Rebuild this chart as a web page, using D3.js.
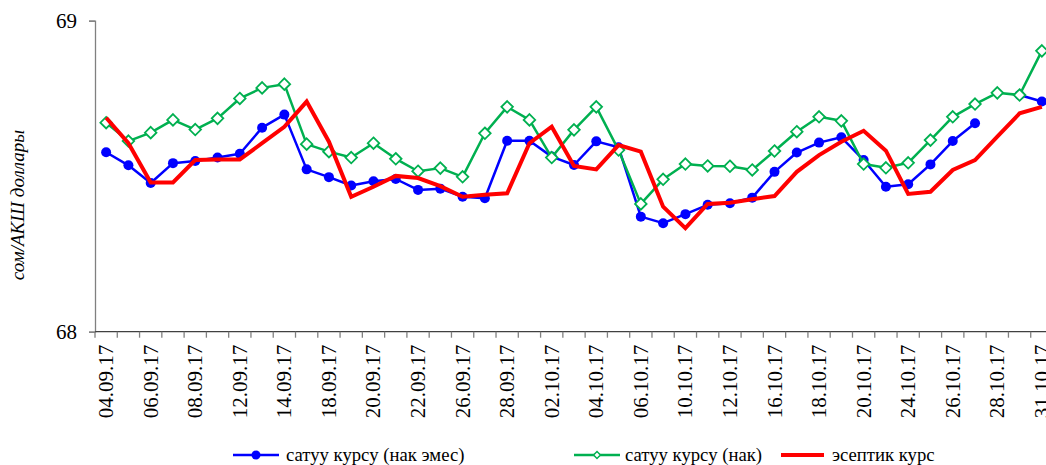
<!DOCTYPE html>
<html>
<head>
<meta charset="utf-8">
<script src="https://cdn.jsdelivr.net/npm/d3@7"></script>
<style>
  html, body { margin: 0; padding: 0; background: #fff; }
  svg { display: block; }
  svg text { font-family: "Liberation Serif", "Times New Roman", serif; }
</style>
</head>
<body>
<svg id="chart" width="1046" height="465"></svg>
<script>
const dates = ["04.09.17","05.09.17","06.09.17","07.09.17","08.09.17","11.09.17","12.09.17","13.09.17","14.09.17","15.09.17",
  "18.09.17","19.09.17","20.09.17","21.09.17","22.09.17","25.09.17","26.09.17","27.09.17","28.09.17","29.09.17",
  "02.10.17","03.10.17","04.10.17","05.10.17","06.10.17","09.10.17","10.10.17","11.10.17","12.10.17","13.10.17",
  "16.10.17","17.10.17","18.10.17","19.10.17","20.10.17","23.10.17","24.10.17","25.10.17","26.10.17","27.10.17",
  "28.10.17","30.10.17","31.10.17"];

const sellNonCash = [68.577,68.535,68.478,68.542,68.549,68.560,68.572,68.656,68.698,68.522,
  68.497,68.470,68.484,68.491,68.456,68.460,68.434,68.429,68.614,68.614,
  68.563,68.536,68.612,68.593,68.370,68.349,68.378,68.408,68.413,68.431,
  68.514,68.576,68.608,68.625,68.552,68.466,68.474,68.538,68.613,68.670,
  null,68.761,68.740];

const sellCash = [68.672,68.613,68.640,68.681,68.650,68.686,68.750,68.784,68.796,68.603,
  68.579,68.560,68.606,68.556,68.516,68.526,68.498,68.638,68.723,68.681,
  68.560,68.649,68.723,68.584,68.411,68.490,68.539,68.533,68.532,68.520,
  68.581,68.643,68.691,68.678,68.539,68.527,68.543,68.616,68.691,68.732,
  68.768,68.761,68.903];

const official = [68.688,68.606,68.480,68.480,68.552,68.554,68.554,68.606,68.659,68.740,
  68.611,68.434,68.466,68.501,68.494,68.468,68.434,68.440,68.445,68.606,
  68.659,68.533,68.522,68.600,68.579,68.402,68.333,68.411,68.415,68.426,
  68.436,68.514,68.568,68.611,68.646,68.582,68.443,68.450,68.520,68.552,
  68.627,68.702,68.723];

const yTicks = [68, 69];
const seriesNames = ["сатуу курсу (нак эмес)", "сатуу курсу  (нак)", "эсептик курс"];
const yTitle = "сом/АКШ доллары";

const FONT = "Liberation Serif";
const svg = d3.select("#chart");
const mLeft = 95, mRight = 1053, mTop = 20.7, mBottom = 331.7;

const x = d3.scaleBand().domain(dates).range([mLeft, mRight]).padding(0);
const y = d3.scaleLinear().domain([68, 69]).range([mBottom, mTop]);
const cx = d => x(d) + x.bandwidth() / 2;

// Y axis
const yAxis = svg.append("g").attr("transform", `translate(${mLeft},0)`)
  .call(d3.axisLeft(y).tickValues(yTicks).tickFormat(d3.format("d")).tickSize(6).tickPadding(12));
yAxis.attr("font-family", FONT);
yAxis.select(".domain").attr("stroke", "#808080").attr("stroke-width", 1.3);
yAxis.selectAll(".tick line").attr("stroke", "#808080").attr("stroke-width", 1.3);
yAxis.selectAll(".tick text").attr("font-size", 21).attr("fill", "#000")
  .attr("font-family", FONT);

// X axis
const xAxisG = svg.append("g").attr("transform", `translate(0,${mBottom})`);
xAxisG.append("line").attr("x1", mLeft).attr("x2", mRight).attr("y1", 0).attr("y2", 0)
  .attr("stroke", "#404040").attr("stroke-width", 1.3);
const bounds = dates.map(d => x(d)).concat([mRight]);
xAxisG.selectAll("line.tk").data(bounds).enter().append("line").attr("class", "tk")
  .attr("x1", d => d).attr("x2", d => d).attr("y1", 0).attr("y2", 6)
  .attr("stroke", "#808080").attr("stroke-width", 1.3);
xAxisG.selectAll("text.lbl").data(dates.filter((d, i) => i % 2 === 0)).enter().append("text")
  .attr("class", "lbl")
  .attr("transform", d => `translate(${cx(d) + 7},${13}) rotate(-90)`)
  .attr("text-anchor", "end")
  .attr("font-size", 21)
  .attr("font-family", FONT)
  .attr("fill", "#000")
  .text(d => d);

// Y title
svg.append("text")
  .attr("transform", `translate(24,205) rotate(-90)`)
  .attr("text-anchor", "middle")
  .attr("font-size", 19)
  .attr("font-style", "italic")
  .attr("font-family", FONT)
  .text(yTitle);

// Lines
const lineGen = d3.line().defined(d => d.v !== null).x(d => cx(d.k)).y(d => y(d.v));
const toPts = arr => arr.map((v, i) => ({ k: dates[i], v }));

// blue series
svg.append("path").datum(toPts(sellNonCash)).attr("d", lineGen)
  .attr("fill", "none").attr("stroke", "#0000FF").attr("stroke-width", 2.5).attr("stroke-linejoin", "round");
svg.selectAll("circle.b").data(toPts(sellNonCash).filter(d => d.v !== null)).enter().append("circle")
  .attr("class", "b").attr("cx", d => cx(d.k)).attr("cy", d => y(d.v)).attr("r", 5)
  .attr("fill", "#0000FF");

// green series
svg.append("path").datum(toPts(sellCash)).attr("d", lineGen)
  .attr("fill", "none").attr("stroke", "#00B050").attr("stroke-width", 2.5).attr("stroke-linejoin", "round");
const dia = d3.symbol().type(d3.symbolDiamond2).size(85);
svg.selectAll("path.g").data(toPts(sellCash)).enter().append("path")
  .attr("class", "g").attr("d", dia)
  .attr("transform", d => `translate(${cx(d.k)},${y(d.v)})`)
  .attr("fill", "#fff").attr("stroke", "#00B050").attr("stroke-width", 1.8);

// red series
svg.append("path").datum(toPts(official)).attr("d", lineGen)
  .attr("fill", "none").attr("stroke", "#FF0000").attr("stroke-width", 4).attr("stroke-linejoin", "miter");

// Legend
const leg = svg.append("g").attr("font-size", 18.7).attr("font-family", FONT);
const legItems = [
  { name: seriesNames[0], color: "#0000FF", x1: 233, x2: 279, tx: 286, marker: "circle" },
  { name: seriesNames[1], color: "#00B050", x1: 574, x2: 620, tx: 625, marker: "diamond" },
  { name: seriesNames[2], color: "#FF0000", x1: 781, x2: 824, tx: 832, marker: "none" }
];
const ly = 455;
legItems.forEach(it => {
  leg.append("line").attr("x1", it.x1).attr("x2", it.x2).attr("y1", ly).attr("y2", ly)
    .attr("stroke", it.color).attr("stroke-width", it.marker === "none" ? 4 : 2.5);
  const mx = (it.x1 + it.x2) / 2;
  if (it.marker === "circle") {
    leg.append("circle").attr("cx", mx).attr("cy", ly).attr("r", 4.5).attr("fill", it.color);
  } else if (it.marker === "diamond") {
    leg.append("path").attr("d", d3.symbol().type(d3.symbolDiamond2).size(30))
      .attr("transform", `translate(${mx},${ly})`).attr("fill", "#fff")
      .attr("stroke", it.color).attr("stroke-width", 1.5);
  }
  leg.append("text").attr("x", it.tx).attr("y", ly + 5.5).attr("font-family", FONT).text(it.name);
});
</script>
</body>
</html>
